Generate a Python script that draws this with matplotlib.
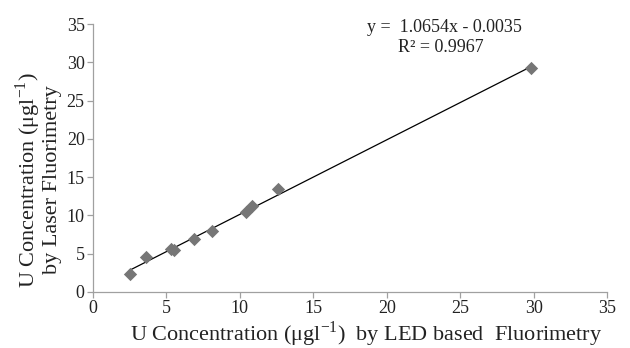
import numpy as np
import matplotlib
matplotlib.use("Agg")
import matplotlib.pyplot as plt

plt.rcParams['font.family'] = ['Liberation Serif', 'DejaVu Serif']
plt.rcParams['mathtext.fontset'] = 'custom'
plt.rcParams['mathtext.rm'] = 'Liberation Serif'

# LED based vs laser fluorimetry (ug/l)
led = [2.5, 3.6, 5.3, 5.5, 6.9, 8.1, 10.4, 10.8, 12.6, 29.8]
laser = [2.3, 4.6, 5.6, 5.5, 6.9, 7.9, 10.4, 11.2, 13.4, 29.2]

eq_text = "y =  1.0654x - 0.0035"
r2_text = "R² = 0.9967"

fig = plt.figure(figsize=(6.3, 3.48), dpi=100)
ax = fig.add_axes([0.1476, 0.161, 0.8159, 0.770])

# trendline as drawn in the original (least squares through the points)
slope, intercept = np.polyfit(led, laser, 1)
x_fit = np.array([min(led), max(led)])
ax.plot(x_fit, slope * x_fit + intercept, color='black', lw=0.9, zorder=2)
ax.scatter(led, laser, marker='D', s=46, color='#767676', zorder=3, linewidths=0)

ax.set_xlim(0, 35)
ax.set_ylim(0, 35)
ax.set_xticks(range(0, 36, 5))
ax.set_yticks(range(0, 36, 5))
for s in ['top', 'right']:
    ax.spines[s].set_visible(False)
for s in ['left', 'bottom']:
    ax.spines[s].set_color('#a0a0a0')
    ax.spines[s].set_linewidth(0.9)
ax.tick_params(colors='#a0a0a0', labelcolor='#222222', labelsize=13, length=4, width=0.9, pad=2)

ax.set_xlabel(r"U Concentration ($\mathregular{\mu}$gl$^{\mathregular{-1}}$)  by LED based  Fluorimetry",
              fontsize=16, color='#222222')
ax.xaxis.set_label_coords(0.531, -0.102)
ax.set_ylabel("U Concentration (\u03bcgl$^{\\mathregular{-1}}$)\nby Laser Fluorimetry",
              fontsize=16, color='#222222', linespacing=0.98)
ax.yaxis.set_label_coords(-0.06, 0.418)

fig.text(0.583, 0.922, eq_text, fontsize=13, color='#222222', va='center')
fig.text(0.632, 0.864, r2_text, fontsize=13, color='#222222', va='center')

fig.savefig("out.png", dpi=100)
